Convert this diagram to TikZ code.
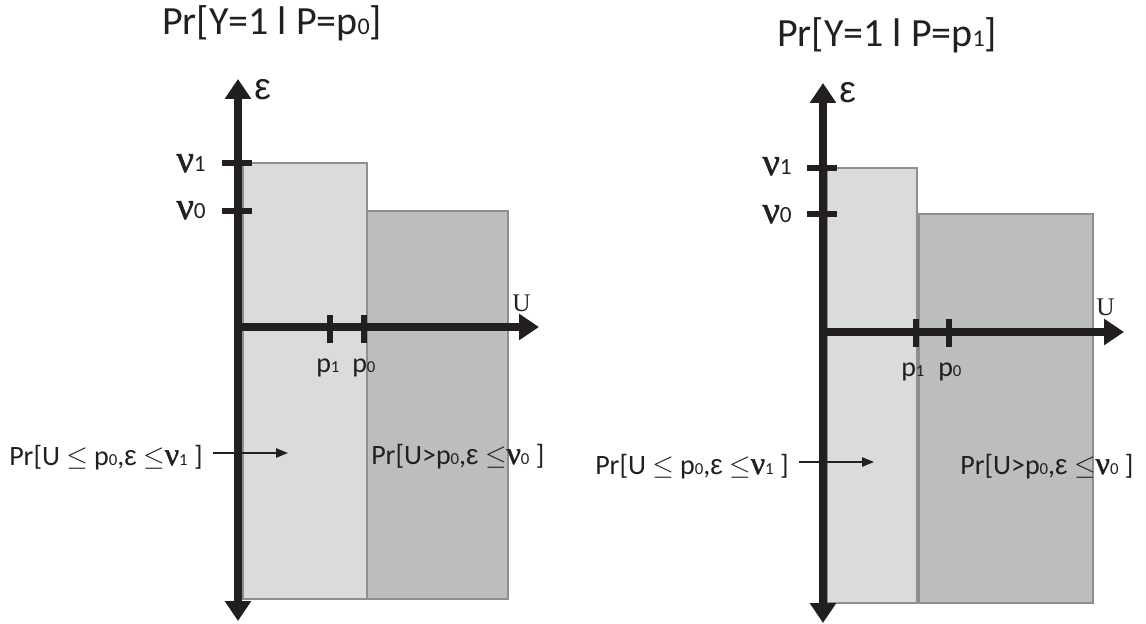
\documentclass[tikz,border=0pt]{standalone}
\usepackage{fontspec}
\setmainfont{Carlito}
\newfontfamily\grk[FakeBold=1.3]{Liberation Serif}
\newfontfamily\grkU{Liberation Serif}
\newfontfamily\grs{Liberation Sans}
\usetikzlibrary{arrows.meta}
\newcommand\dg[1]{\scalebox{0.6}{#1}}
\newcommand\nuu{{\grk ν}}
\newcommand\eps{{\grs ε}}
\definecolor{ink}{HTML}{231F20}
\definecolor{lightgr}{HTML}{DADBDD}
\definecolor{darkgr}{HTML}{BCBDBF}
\definecolor{edgegr}{HTML}{8E8E90}
\begin{document}
\begin{tikzpicture}[x=0.75pt,y=-0.75pt,
  lightbox/.style={fill=lightgr,draw=edgegr,line width=1.2pt},
  darkbox/.style={fill=darkgr,draw=edgegr,line width=1.2pt},
  axisv/.style={draw=ink,line width=6.5pt,{Triangle[length=15pt,width=19pt]}-{Triangle[length=15pt,width=19pt]}},
  axish/.style={draw=ink,line width=6.5pt,-{Triangle[length=15pt,width=19pt]}},
  tickmark/.style={draw=ink,line width=5pt},
  pointer/.style={draw=ink,line width=1.1pt,-{Triangle[length=9pt,width=7pt]}},
  title/.style={anchor=base west,inner sep=0pt,text=ink,font=\fontsize{30}{32}\selectfont},
  lab/.style={anchor=base west,inner sep=0pt,text=ink,font=\fontsize{21}{24}\selectfont},
  plab/.style={anchor=base west,inner sep=0pt,text=ink,font=\fontsize{21}{24}\selectfont},
  nulab/.style={anchor=base east,inner sep=0pt,text=ink,font=\fontsize{29}{30}\selectfont},
  epslab/.style={anchor=base west,inner sep=0pt,text=ink,font=\fontsize{28}{30}\selectfont},
  ulab/.style={anchor=base west,inner sep=0pt,text=ink,font=\grkU\fontsize{19}{20}\selectfont}]
\useasboundingbox (0,0) rectangle (1146,624);

% ---------------- left panel ----------------
\path[lightbox] (243,163) rectangle (367,599);
\path[darkbox] (367,211) rectangle (508,599);
\coordinate (Lbot) at (238,621);
\coordinate (Ltop) at (238,79);
\coordinate (Lorig) at (238,327);
\coordinate (Lend) at (539,327);
\draw[axisv] (Lbot) -- (Ltop);
\draw[axish] (Lorig) -- (Lend);
\draw[tickmark] (222,163) -- (252,163);
\draw[tickmark] (222,211) -- (252,211);
\draw[tickmark] (330,315) -- (330,343);
\draw[tickmark] (364,315) -- (364,343);
\node[title] (Lt) at (162,35) {Pr[Y=1 l P=p\dg{0}]};
\node[epslab] (Le) at (254,100) {\eps};
\node[nulab] (Lv1) at (206,172) {\nuu\dg{1}};
\node[nulab] (Lv0) at (206,219) {\nuu\dg{0}};
\node[ulab] (Lu) at (512,311) {U};
\node[plab] (Lp1) at (316,372) {p\dg{1}};
\node[plab] (Lp0) at (352,372) {p\dg{0}};
\node[lab] (Lq1) at (9,465) {Pr[U $\le$ p\dg{0},\eps\ $\le${\fontsize{24}{24}\selectfont\nuu}\dg{1} ]};
\node[lab] (Lq2) at (371,464) {Pr[U>p\dg{0},\eps\ $\le${\fontsize{24}{24}\selectfont\nuu}\dg{0} ]};
\coordinate (La) at (213,453);
\coordinate (Lb) at (288,453);
\draw[pointer] (La) -- (Lb);

% ---------------- right panel ----------------
\path[lightbox] (827,168) rectangle (917,603);
\path[darkbox] (919,214) rectangle (1093,603);
\coordinate (Rbot) at (823,623);
\coordinate (Rtop) at (823,83);
\coordinate (Rorig) at (823,332);
\coordinate (Rend) at (1124,332);
\draw[axisv] (Rbot) -- (Rtop);
\draw[axish] (Rorig) -- (Rend);
\draw[tickmark] (807,168) -- (837,168);
\draw[tickmark] (807,214) -- (837,214);
\draw[tickmark] (916,319) -- (916,347);
\draw[tickmark] (949,319) -- (949,347);
\node[title] (Rt) at (777,47) {Pr[Y=1 l P=p\dg{1}]};
\node[epslab] (Re) at (839,103) {\eps};
\node[nulab] (Rv1) at (792,175) {\nuu\dg{1}};
\node[nulab] (Rv0) at (792,223) {\nuu\dg{0}};
\node[ulab] (Ru) at (1096,315) {U};
\node[plab] (Rp1) at (901,376) {p\dg{1}};
\node[plab] (Rp0) at (938,376) {p\dg{0}};
\node[lab] (Rq1) at (595,474) {Pr[U $\le$ p\dg{0},\eps\ $\le${\fontsize{24}{24}\selectfont\nuu}\dg{1} ]};
\node[lab] (Rq2) at (960,474) {Pr[U>p\dg{0},\eps\ $\le${\fontsize{24}{24}\selectfont\nuu}\dg{0} ]};
\coordinate (Ra) at (799,462);
\coordinate (Rb) at (874,462);
\draw[pointer] (Ra) -- (Rb);
\end{tikzpicture}
\end{document}
